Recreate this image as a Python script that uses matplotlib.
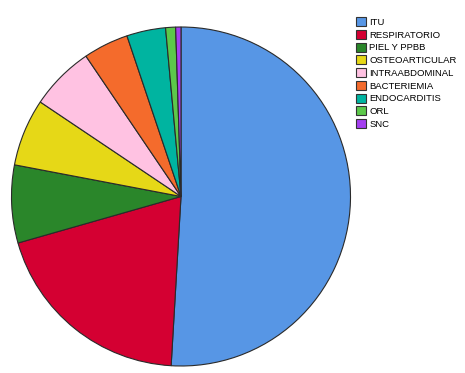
import matplotlib
matplotlib.use("Agg")
import matplotlib.pyplot as plt
from matplotlib.patches import Patch

plt.rcParams['font.family'] = ['Liberation Sans', 'DejaVu Sans']

categories = ["ITU", "RESPIRATORIO", "PIEL Y PPBB", "OSTEOARTICULAR", "INTRAABDOMINAL",
              "BACTERIEMIA", "ENDOCARDITIS", "ORL", "SNC"]
values = [50.8, 19.6, 7.4, 6.4, 6.1, 4.3, 3.7, 0.95, 0.5]
colors = ["#5796E5", "#D40032", "#2A862A", "#E6D817", "#FFC2E2", "#F46B2C", "#00B4A0", "#5CC84A", "#A43FF0"]

fig = plt.figure(figsize=(4.65, 3.73), dpi=100)
ax = fig.add_axes([11/465, 7/373, 340/465, 339/373])
ax.pie(values, colors=colors, startangle=90, counterclock=False, radius=1,
       wedgeprops=dict(edgecolor="#2a2a2a", linewidth=0.8))
ax.set_xlim(-1.0, 1.0)
ax.set_ylim(-1.0, 1.0)
ax.set_aspect('equal')
ax.axis('off')

handles = [Patch(facecolor=c, edgecolor="#333333", linewidth=0.8) for c in colors]
fig.legend(handles, categories, loc='upper left', bbox_to_anchor=(356/465, 1 - 17/373),
           frameon=False, fontsize=6.8, handlelength=1.1, handleheight=1.1,
           handletextpad=0.3, labelspacing=0.32, borderaxespad=0, borderpad=0)

fig.savefig("out.png", dpi=100)
